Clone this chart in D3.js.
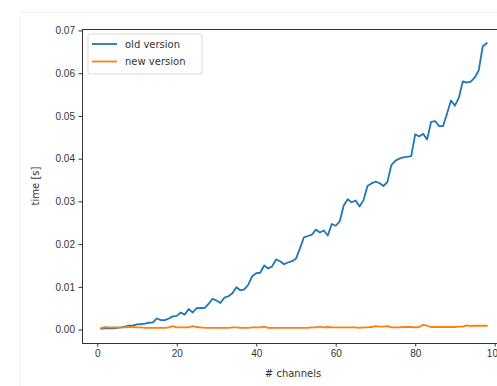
<!DOCTYPE html>
<html>
<head>
<meta charset="utf-8">
<script src="https://cdn.jsdelivr.net/npm/d3@7"></script>
<style>
  body { margin: 0; background: #fff; }
  svg { display: block; font-family: "DejaVu Sans", sans-serif; }
</style>
</head>
<body>
<div id="chart"></div>
<script>
// # channels: 1..98
const channels = d3.range(1, 99);

const oldVersion = [
  0.0002, 0.0003, 0.0003, 0.0003, 0.0004, 0.0005, 0.0007, 0.0009, 0.0010, 0.0012,
  0.0013, 0.0014, 0.0016, 0.0017, 0.0026, 0.0022, 0.0022, 0.0026, 0.0031, 0.0032,
  0.0040, 0.0035, 0.0048, 0.0040, 0.0050, 0.0051, 0.0050, 0.0060, 0.0072, 0.0068,
  0.0062, 0.0075, 0.0078, 0.0085, 0.0099, 0.0092, 0.0094, 0.0105, 0.0125, 0.0132,
  0.0133, 0.0150, 0.0143, 0.0148, 0.0164, 0.0160, 0.0153, 0.0157, 0.0160, 0.0166,
  0.0190, 0.0216, 0.0219, 0.0222, 0.0234, 0.0227, 0.0232, 0.0220, 0.0247, 0.0243,
  0.0253, 0.0290, 0.0305, 0.0298, 0.0302, 0.0288, 0.0303, 0.0336, 0.0342, 0.0346,
  0.0343, 0.0336, 0.0345, 0.0385, 0.0395, 0.0400, 0.0403, 0.0404, 0.0406, 0.0457,
  0.0452, 0.0458, 0.0445, 0.0486, 0.0488, 0.0476, 0.0476, 0.0505, 0.0536, 0.0524,
  0.0543, 0.0581, 0.0578, 0.0580, 0.0590, 0.0607, 0.0663, 0.0670
];

const newVersion = [
  0.0004, 0.0006, 0.0005, 0.0005, 0.0005, 0.0005, 0.0005, 0.0006, 0.0006, 0.0005,
  0.0005, 0.0004, 0.0004, 0.0004, 0.0004, 0.0004, 0.0004, 0.0005, 0.0008, 0.0005,
  0.0005, 0.0005, 0.0005, 0.0008, 0.0006, 0.0005, 0.0004, 0.0004, 0.0004, 0.0004,
  0.0004, 0.0004, 0.0004, 0.0005, 0.0005, 0.0004, 0.0004, 0.0004, 0.0005, 0.0005,
  0.0005, 0.0007, 0.0004, 0.0004, 0.0004, 0.0004, 0.0004, 0.0004, 0.0004, 0.0004,
  0.0004, 0.0004, 0.0004, 0.0005, 0.0005, 0.0007, 0.0005, 0.0006, 0.0005, 0.0005,
  0.0005, 0.0005, 0.0005, 0.0005, 0.0005, 0.0004, 0.0005, 0.0005, 0.0006, 0.0008,
  0.0007, 0.0007, 0.0008, 0.0005, 0.0005, 0.0005, 0.0006, 0.0006, 0.0006, 0.0005,
  0.0006, 0.0011, 0.0009, 0.0006, 0.0006, 0.0006, 0.0006, 0.0006, 0.0006, 0.0006,
  0.0007, 0.0007, 0.0010, 0.0008, 0.0009, 0.0009, 0.0009, 0.0009
];

const xTicks = [0, 20, 40, 60, 80, 100];
const yTicks = [0, 0.01, 0.02, 0.03, 0.04, 0.05, 0.06, 0.07];

const series = [
  { name: 'old version', values: oldVersion, color: '#1f77b4' },
  { name: 'new version', values: newVersion, color: '#ff7f0e' }
];

const W = 497, H = 386;
const margin = { top: 29, right: -9, bottom: 43, left: 82 };
const width = W - margin.left - margin.right;
const height = H - margin.top - margin.bottom;

const svg = d3.select('#chart').append('svg')
  .attr('width', W)
  .attr('height', H);

// faint outer frame of the screenshot
svg.append('rect')
  .attr('x', 20.5).attr('y', 12.5)
  .attr('width', W).attr('height', H)
  .attr('fill', 'none')
  .attr('stroke', '#f2f2f2');

const g = svg.append('g')
  .attr('transform', `translate(${margin.left},${margin.top})`);

// matplotlib style 5% margins
const xPad = (98 - 1) * 0.05;
const x = d3.scaleLinear().domain([1 - xPad, 98 + xPad]).range([0, width]);
const yMin = 0.0002, yMax = 0.0670, yPad = (yMax - yMin) * 0.05;
const y = d3.scaleLinear().domain([yMin - yPad, yMax + yPad]).range([height, 0]);

const line = d3.line()
  .x((d, i) => x(channels[i]))
  .y(d => y(d));

series.forEach(s => {
  g.append('path')
    .datum(s.values)
    .attr('fill', 'none')
    .attr('stroke', s.color)
    .attr('stroke-width', 1.8)
    .attr('stroke-linejoin', 'round')
    .attr('stroke-linecap', 'square')
    .attr('d', line);
});

// axes
g.append('g')
  .attr('transform', `translate(0,${height})`)
  .call(d3.axisBottom(x).tickValues(xTicks).tickFormat(d3.format('d')).tickSize(3.5).tickPadding(3.5))
  .call(a => a.select('.domain').remove())
  .call(a => a.selectAll('line').attr('stroke', '#333'))
  .call(a => a.selectAll('text').attr('fill', '#333').style('font-size', '10px'));

g.append('g')
  .call(d3.axisLeft(y).tickValues(yTicks).tickFormat(d3.format('.2f')).tickSize(3.5).tickPadding(3.5))
  .call(a => a.select('.domain').remove())
  .call(a => a.selectAll('line').attr('stroke', '#333'))
  .call(a => a.selectAll('text').attr('fill', '#333').style('font-size', '10px'));

// spines
g.append('rect')
  .attr('x', 0).attr('y', 0)
  .attr('width', width).attr('height', height)
  .attr('fill', 'none')
  .attr('stroke', '#333')
  .attr('stroke-width', 1)
  .attr('shape-rendering', 'crispEdges');

// axis labels
svg.append('text')
  .attr('x', 293)
  .attr('y', 377)
  .attr('text-anchor', 'middle')
  .attr('fill', '#333')
  .style('font-size', '10px')
  .text('# channels');

svg.append('text')
  .attr('transform', `translate(39,${margin.top + height / 2}) rotate(-90)`)
  .attr('text-anchor', 'middle')
  .attr('fill', '#333')
  .style('font-size', '10px')
  .text('time [s]');

// legend
const legend = g.append('g').attr('transform', 'translate(6,5)');
legend.append('rect')
  .attr('width', 114).attr('height', 40)
  .attr('rx', 2.5)
  .attr('fill', '#fff').attr('fill-opacity', 0.8)
  .attr('stroke', '#d9d9d9');

series.forEach((s, i) => {
  const row = legend.append('g').attr('transform', `translate(0,${10 + i * 17.5})`);
  row.append('line')
    .attr('x1', 4).attr('x2', 29)
    .attr('y1', 0).attr('y2', 0)
    .attr('stroke', s.color)
    .attr('stroke-width', 1.8);
  row.append('text')
    .attr('x', 37).attr('y', 3.6)
    .attr('fill', '#333')
    .style('font-size', '10px')
    .text(s.name);
});
</script>
</body>
</html>
